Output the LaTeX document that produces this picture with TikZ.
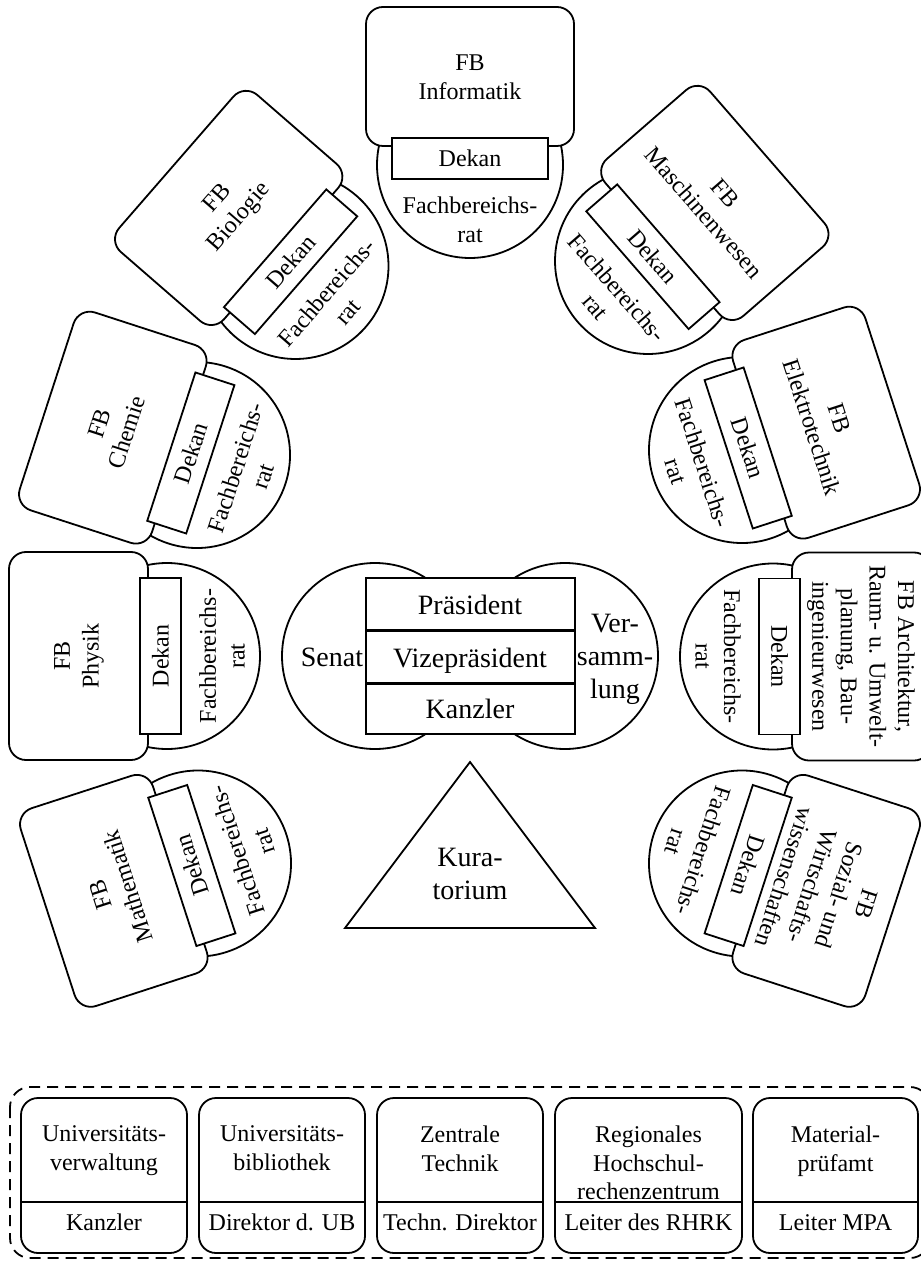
\documentclass[tikz,border=0pt]{standalone}
\usepackage{fontspec}
\setmainfont{Liberation Serif}
\begin{document}
\begin{tikzpicture}[x=0.5pt, y=0.5pt, line width=0.9pt,
  lbl/.style={font=\fontsize{12}{14.3}\selectfont, align=center, inner sep=0pt},
  big/.style={font=\fontsize{14}{16.5}\selectfont, align=center, inner sep=0pt},
  shp/.style={draw=black, fill=white},
]
\useasboundingbox (0,0) rectangle (920,-1261);

% one faculty: council circle, faculty box, dean's box
% #1 id, #2 x, #3 y (downwards), #4 outward angle, #5 faculty name
\newcommand{\fbunit}[5]{%
  \begin{scope}[shift={(#2,-#3)}, rotate=#4-90]
    \draw[shp] (0,0) circle (93);
    \draw[shp, rounded corners=8.5pt] (-104,19) rectangle (104,158);
    \draw[shp] (-78,-14) rectangle (78,27);
    \node[lbl, transform shape] (#1fb) at (0,88) {#5};
    \node[lbl, transform shape] (#1dekan) at (0,6.5) {Dekan};
    \node[lbl, transform shape] (#1rat) at (0,-55) {Fachbereichs-\\rat};
  \end{scope}}

\fbunit{inf}{470}{165}{90}{FB\\Informatik}
\fbunit{bio}{295.5}{266}{139}{FB\\Biologie}
\fbunit{mw}{648}{261}{41}{FB\\Maschinenwesen}
\fbunit{che}{197}{455}{162}{FB\\Chemie}
\fbunit{et}{742}{450}{18}{FB\\Elektrotechnik}
\fbunit{phy}{167}{656}{180}{FB\\Physik}
\fbunit{arch}{773}{656.5}{0}{FB Architektur,\\Raum- u. Umwelt-\\planung, Bau-\\ingenieurwesen}
\fbunit{mat}{198}{863.5}{198}{FB\\Mathematik}
\fbunit{soz}{742}{863.5}{-18}{FB\\Sozial- und\\Wirtschafts-\\wissenschaften}

% university leadership
\draw[shp] (375,-656) circle (93);
\draw[shp] (565,-656) circle (93);
\draw[shp] (366,-578) rectangle (575,-734);
\draw[line width=1.5pt] (366,-630.5) -- (575,-630.5);
\draw[line width=1.5pt] (366,-683) -- (575,-683);
\node[big, anchor=base] (praes) at (470,-614) {Präsident};
\node[big, anchor=base] (vize) at (470,-667) {Vizepräsident};
\node[big, anchor=base] (kanzler) at (470,-718) {Kanzler};
\node[big, anchor=base] (senat) at (332,-666) {Senat};
\node[big] (versammlung) at (615,-659) {Ver-\\samm-\\lung};

% board of trustees
\draw[shp] (470,-762) -- (595,-928) -- (345,-928) -- cycle;
\node[big] (kurat) at (470,-874) {Kura-\\torium};

% central institutions
\draw[dashed, dash pattern=on 5.5pt off 3.5pt, rounded corners=10pt] (10,-1087) rectangle (930,-1258);
\newcommand{\svcbox}[5]{%
  \draw[shp, rounded corners=8.5pt] (#2,-1098) rectangle (#3,-1253);
  \draw (#2,-1202) -- (#3,-1202);
  \node[lbl, anchor=north] (#1top) at ({(#2+#3)/2},-1125) {#4};
  \node[lbl, anchor=base] (#1head) at ({(#2+#3)/2},-1230) {#5};}
\svcbox{uv}{21}{187}{Universitäts-\\verwaltung}{Kanzler}
\svcbox{ub}{199}{365}{Universitäts-\\bibliothek}{Direktor d. UB}
\svcbox{zt}{377}{543}{Zentrale\\Technik}{Techn. Direktor}
\svcbox{rz}{555}{742}{Regionales\\Hochschul-\\rechenzentrum}{Leiter des RHRK}
\svcbox{mpa}{753}{918}{Material-\\prüfamt}{Leiter MPA}
\end{tikzpicture}
\end{document}
